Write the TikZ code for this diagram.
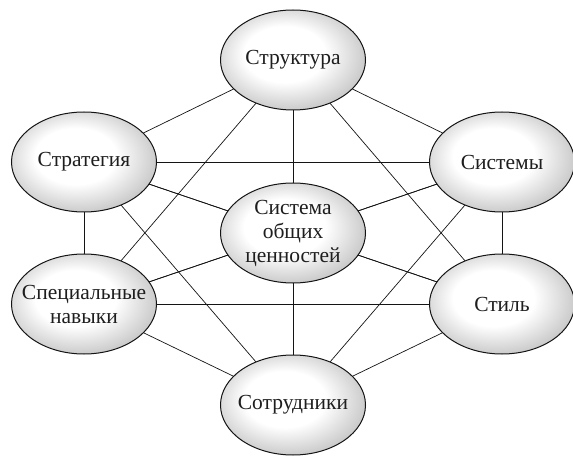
\documentclass[tikz,border=0pt]{standalone}
\usepackage{fontspec}
\setmainfont{Liberation Serif}
\usepackage{xcolor}
\definecolor{skline}{RGB}{20,20,20}
\definecolor{sktext}{RGB}{30,30,30}
\definecolor{skshade}{RGB}{110,110,110}
\usepackage{tikz}
\usetikzlibrary{positioning, shapes.geometric, backgrounds}
\pgfdeclareradialshading{skglow}{\pgfpoint{-4bp}{4bp}}{color(0bp)=(white); color(14bp)=(white); color(50bp)=(skshade)}

\begin{document}
\begin{tikzpicture}[x=1pt, y=-1pt,
  sitem/.style={ellipse, draw=skline, line width=1pt, shading=skglow,
    minimum width=145pt, minimum height=100pt, inner xsep=-30pt, inner ysep=0pt,
    align=center, text=sktext, font=\fontsize{21.5}{24}\selectfont},
  slink/.style={draw=skline, line width=0.7pt}]

\useasboundingbox (0,0) rectangle (573,457);

% --- Outer ring ---
\node[sitem] (struct) at (293,60) {Структура};
\node[sitem] (strat) at (84,162) {Стратегия};
\node[sitem] (sys) at (502,162) {Системы};
\node[sitem] (skills) at (84,304) {Специальные\\навыки};
\node[sitem] (style) at (502,304) {Стиль};
\node[sitem] (staff) at (293,405) {Сотрудники};

% --- Centre ---
\node[sitem] (values) at (293,233) {Система\\общих\\ценностей};

% Every pair linked, behind the ellipses
\begin{pgfonlayer}{background}
\foreach \a/\b in {struct/strat, struct/sys, struct/skills, struct/style,
    struct/staff, struct/values, strat/sys, strat/skills, strat/style,
    strat/staff, strat/values, sys/skills, sys/style, sys/staff, sys/values,
    skills/style, skills/staff, skills/values, style/staff, style/values,
    staff/values}
  \draw[slink] (\a.center) -- (\b.center);
\end{pgfonlayer}

\end{tikzpicture}
\end{document}
